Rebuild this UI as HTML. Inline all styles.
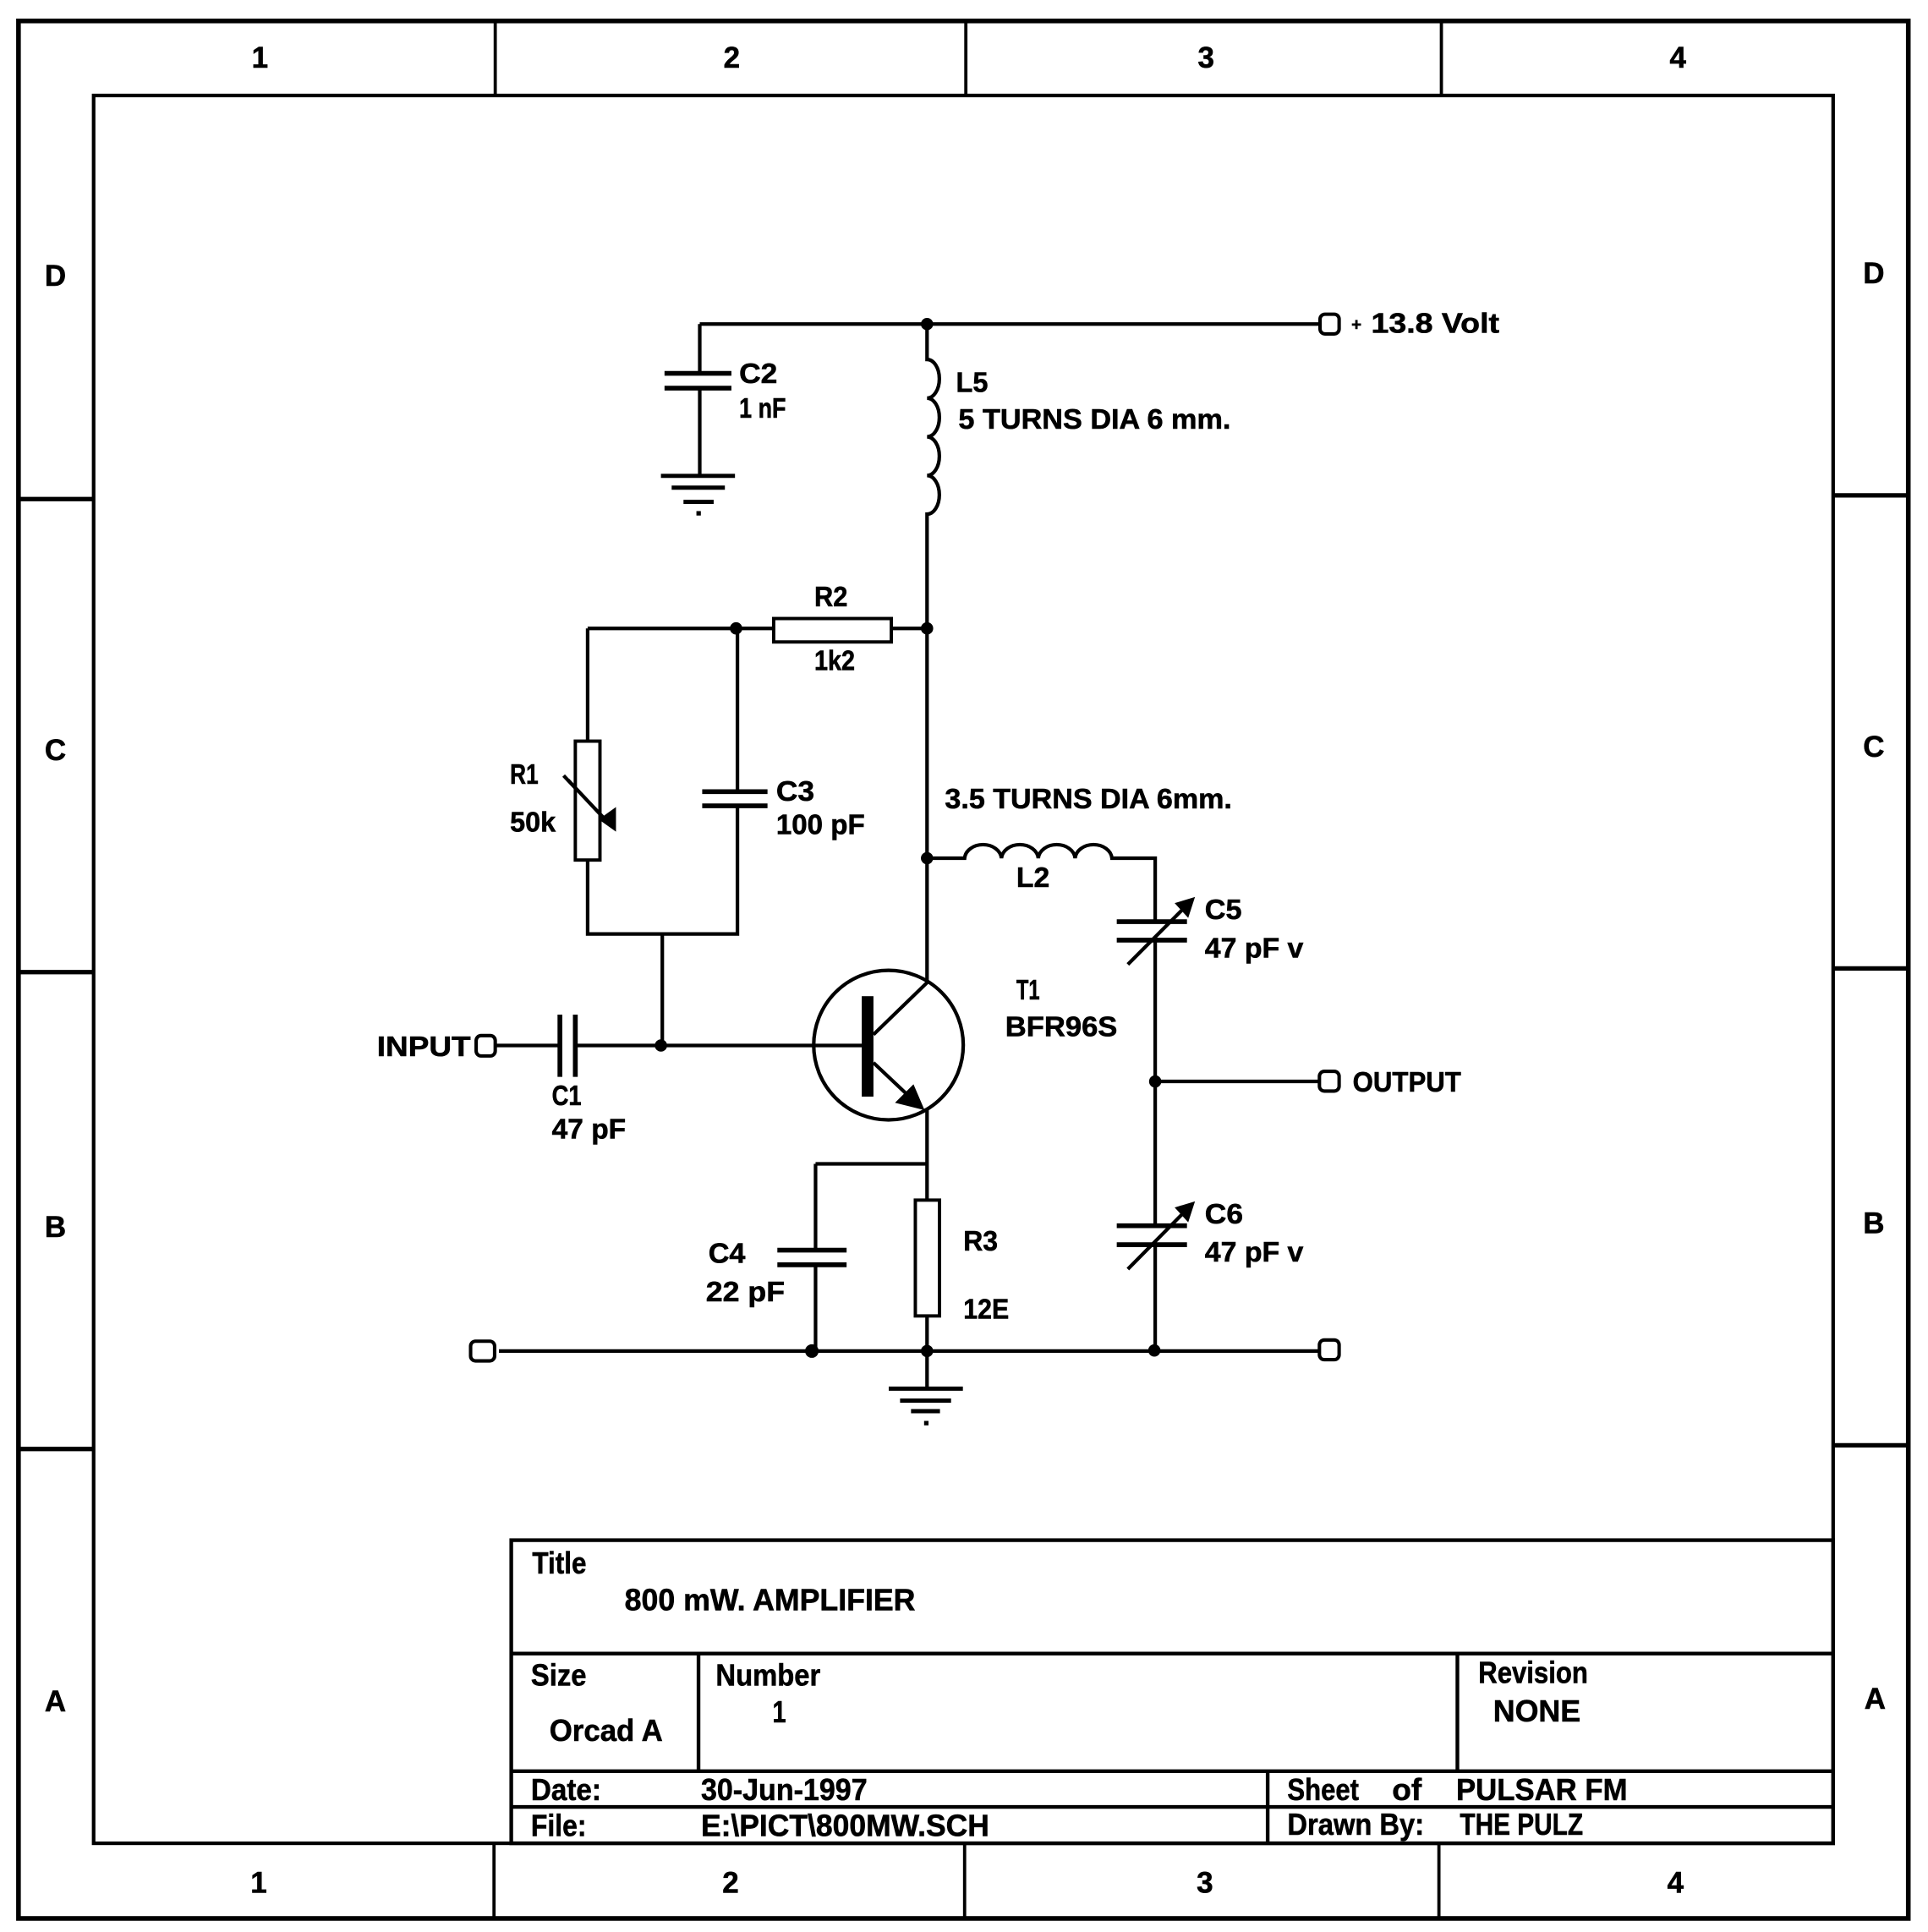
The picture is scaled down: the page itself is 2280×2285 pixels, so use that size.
<!DOCTYPE html>
<html>
<head>
<meta charset="utf-8">
<style>
html,body{margin:0;padding:0;background:#fff;}
svg{display:block;}
text{font-family:"Liberation Sans",Arial,sans-serif;font-weight:bold;fill:#000;stroke:#000;stroke-width:0.4;}
</style>
</head>
<body>
<svg xmlns="http://www.w3.org/2000/svg" width="2280" height="2285" viewBox="0 0 1565 1568" preserveAspectRatio="none">
<rect x="0" y="0" width="1565" height="1568" fill="#fff"/>

<!-- Frame -->
<g fill="none" stroke="#000">
  <rect x="15" y="17" width="1534" height="1540" stroke-width="3.8"/>
  <rect x="76" y="77.5" width="1412" height="1418.5" stroke-width="2.9"/>
  <path d="M402 17V77.5 M784 17V77.5 M1170 17V77.5 M401 1496V1557 M783 1496V1557 M1168 1496V1557" stroke-width="2.6"/>
  <path d="M15 405H76 M15 789H76 M15 1176H76 M1488 402H1549 M1488 786H1549 M1488 1173H1549" stroke-width="3.6"/>
</g>

<!-- Frame labels -->
<g font-size="24" text-anchor="middle">
  <text x="211" y="55">1</text>
  <text x="594" y="55">2</text>
  <text x="979" y="55">3</text>
  <text x="1362" y="55">4</text>
  <text x="210" y="1536">1</text>
  <text x="593" y="1536">2</text>
  <text x="978" y="1536">3</text>
  <text x="1360" y="1536">4</text>
  <text x="45" y="232">D</text>
  <text x="45" y="617">C</text>
  <text x="45" y="1004">B</text>
  <text x="45" y="1389">A</text>
  <text x="1521" y="230">D</text>
  <text x="1521" y="614">C</text>
  <text x="1521" y="1001">B</text>
  <text x="1522" y="1387">A</text>
</g>

<!-- Title block -->
<g fill="none" stroke="#000" stroke-width="3">
  <rect x="415" y="1250" width="1073" height="246"/>
  <path d="M415 1342H1488 M415 1437.5H1488 M415 1466.5H1488 M567 1342V1437.5 M1183 1342V1437.5 M1029 1437.5V1496"/>
</g>
<g font-size="25">
  <text x="432" y="1277" textLength="44" lengthAdjust="spacingAndGlyphs">Title</text>
  <text x="507" y="1307" textLength="236" lengthAdjust="spacingAndGlyphs">800 mW. AMPLIFIER</text>
  <text x="431" y="1368" textLength="45" lengthAdjust="spacingAndGlyphs">Size</text>
  <text x="446" y="1413" textLength="92" lengthAdjust="spacingAndGlyphs">Orcad A</text>
  <text x="581" y="1368" textLength="85" lengthAdjust="spacingAndGlyphs">Number</text>
  <text x="627" y="1398" textLength="11" lengthAdjust="spacingAndGlyphs">1</text>
  <text x="1200" y="1366" textLength="89" lengthAdjust="spacingAndGlyphs">Revision</text>
  <text x="1212" y="1397" textLength="71" lengthAdjust="spacingAndGlyphs">NONE</text>
  <text x="431" y="1461" textLength="57" lengthAdjust="spacingAndGlyphs">Date:</text>
  <text x="569" y="1461" textLength="135" lengthAdjust="spacingAndGlyphs">30-Jun-1997</text>
  <text x="431" y="1490" textLength="45" lengthAdjust="spacingAndGlyphs">File:</text>
  <text x="569" y="1490" textLength="234" lengthAdjust="spacingAndGlyphs">E:\PICT\800MW.SCH</text>
  <text x="1045" y="1461" textLength="58" lengthAdjust="spacingAndGlyphs">Sheet</text>
  <text x="1130" y="1461" textLength="24" lengthAdjust="spacingAndGlyphs">of</text>
  <text x="1182" y="1461" textLength="139" lengthAdjust="spacingAndGlyphs">PULSAR FM</text>
  <text x="1045" y="1489" textLength="111" lengthAdjust="spacingAndGlyphs">Drawn By:</text>
  <text x="1185" y="1489" textLength="100" lengthAdjust="spacingAndGlyphs">THE PULZ</text>
</g>

<!-- Wires -->
<g fill="none" stroke="#000" stroke-width="2.9">
  <path d="M568 263H1071"/>
  <path d="M568 263V303 M568 315V386"/>
  <path d="M752.5 263V291.7 A10 15.7 0 0 1 752.5 323.1 A10 15.7 0 0 1 752.5 354.5 A10 15.7 0 0 1 752.5 385.9 A10 15.7 0 0 1 752.5 417.3 V797.3"/>
  <path d="M477 510H628 M723.5 510H752.5"/>
  <path d="M477 510V601.5 M477 698V758H598.6V654 M598.6 642.5V510"/>
  <path d="M537.6 758V848.5"/>
  <path d="M402 848.5H454.5 M467 848.5H700"/>
  <path d="M752.5 696.5H783 A15 12 0 0 1 812.9 696.5 A15 12 0 0 1 842.8 696.5 A15 12 0 0 1 872.7 696.5 A15 12 0 0 1 902.6 696.5 H937.7V748 M937.7 763V994.8 M937.7 1010.2V1096.5"/>
  <path d="M937.7 877.7H1071"/>
  <path d="M752.5 900V974 M752.5 1068V1127 M662 944.6H752.5 M662 944.6V1014.6 M662 1026.5V1096.5"/>
  <path d="M405 1096.5H1071"/>
  <!-- transistor -->
  <circle cx="721.2" cy="848.2" r="60.7"/>
  <path d="M709 839.7L752.7 797.3 M709 862.5L744 895.5"/>
  <!-- R1 arrow -->
  <path d="M457.5 629.5L492 666"/>
  <!-- C5/C6 arrows -->
  <path d="M915.5 782.7L962 736 M915.5 1030L962 983"/>
</g>

<!-- Capacitor plates -->
<g fill="none" stroke="#000" stroke-width="3.9">
  <path d="M539.4 303H593.7 M539.4 315H593.7"/>
  <path d="M570 642.5H623 M570 654H623"/>
  <path d="M454.5 823.5V874 M467 823.5V874"/>
  <path d="M631 1014.6H687.2 M631 1026.5H687.2"/>
  <path d="M906.5 748H963.5 M906.5 763H963.5"/>
  <path d="M906.5 994.8H963.5 M906.5 1010.2H963.5"/>
</g>

<!-- Grounds -->
<g fill="none" stroke="#000" stroke-width="3.4">
  <path d="M536.5 386.2H596.6 M545.2 395.8H588.4 M554.8 407.3H579.3"/>
  <path d="M721.4 1127H781.6 M730.6 1136.7H772 M739.5 1145.3H763"/>
</g>
<rect x="565.3" y="414.8" width="3.6" height="3.6" fill="#000"/>
<rect x="750.1" y="1153.2" width="3.6" height="3.6" fill="#000"/>

<!-- Resistors -->
<g fill="#fff" stroke="#000" stroke-width="2.7">
  <rect x="628" y="502" width="95.5" height="19"/>
  <rect x="467" y="601.5" width="20" height="96.5"/>
  <rect x="743" y="974" width="19.6" height="94"/>
</g>
<path d="M461 633L493 667" stroke="#000" stroke-width="2.9" fill="none"/>

<!-- Connectors -->
<g fill="#fff" stroke="#000" stroke-width="2.8">
  <rect x="1071.5" y="255" width="15.5" height="16" rx="4"/>
  <rect x="386.5" y="840.5" width="15.5" height="16.5" rx="4"/>
  <rect x="1071" y="869.5" width="16" height="16" rx="4"/>
  <rect x="382" y="1088.5" width="19.5" height="16" rx="4"/>
  <rect x="1071" y="1087.5" width="16" height="16" rx="4"/>
</g>

<!-- Filled shapes -->
<g fill="#000" stroke="none">
  <rect x="699.5" y="808.5" width="9.5" height="81.5"/>
  <polygon points="750.5,901 726.5,895 741.5,880"/>
  <polygon points="486,665 500,655 500,675"/>
  <polygon points="970,728 953.5,733 964.5,745"/>
  <polygon points="970,975 953.5,980 964.5,992"/>
  <circle cx="752.5" cy="263" r="5"/>
  <circle cx="752.5" cy="510" r="5"/>
  <circle cx="597.5" cy="510" r="5"/>
  <circle cx="752.5" cy="696.5" r="5"/>
  <circle cx="536.5" cy="848.5" r="5"/>
  <circle cx="937.7" cy="877.7" r="5"/>
  <circle cx="659" cy="1096.5" r="5.5"/>
  <circle cx="752.5" cy="1096.5" r="5"/>
  <circle cx="937" cy="1096" r="5"/>
</g>

<!-- Circuit labels -->
<g font-size="23">
  <text x="600" y="311" textLength="31" lengthAdjust="spacingAndGlyphs">C2</text>
  <text x="600" y="339" textLength="38" lengthAdjust="spacingAndGlyphs">1 nF</text>
  <text x="776" y="318" textLength="26" lengthAdjust="spacingAndGlyphs">L5</text>
  <text x="778" y="348" textLength="221" lengthAdjust="spacingAndGlyphs">5 TURNS DIA 6 mm.</text>
  <text x="1097" y="268" font-size="14">+</text>
  <text x="1113" y="270" textLength="104" lengthAdjust="spacingAndGlyphs">13.8 Volt</text>
  <text x="661" y="492" textLength="27" lengthAdjust="spacingAndGlyphs">R2</text>
  <text x="661" y="544" textLength="33" lengthAdjust="spacingAndGlyphs">1k2</text>
  <text x="414" y="636" textLength="23" lengthAdjust="spacingAndGlyphs">R1</text>
  <text x="414" y="675" textLength="37" lengthAdjust="spacingAndGlyphs">50k</text>
  <text x="630" y="650" textLength="31" lengthAdjust="spacingAndGlyphs">C3</text>
  <text x="630" y="677" textLength="72" lengthAdjust="spacingAndGlyphs">100 pF</text>
  <text x="767" y="656" textLength="233" lengthAdjust="spacingAndGlyphs">3.5 TURNS DIA 6mm.</text>
  <text x="825" y="720" textLength="27" lengthAdjust="spacingAndGlyphs">L2</text>
  <text x="978" y="746" textLength="30" lengthAdjust="spacingAndGlyphs">C5</text>
  <text x="978" y="777" textLength="80" lengthAdjust="spacingAndGlyphs">47 pF v</text>
  <text x="825" y="811" textLength="19" lengthAdjust="spacingAndGlyphs">T1</text>
  <text x="816" y="841" textLength="91" lengthAdjust="spacingAndGlyphs">BFR96S</text>
  <text x="306" y="857" textLength="76" lengthAdjust="spacingAndGlyphs">INPUT</text>
  <text x="448" y="897" textLength="24" lengthAdjust="spacingAndGlyphs">C1</text>
  <text x="448" y="924" textLength="60" lengthAdjust="spacingAndGlyphs">47 pF</text>
  <text x="1098" y="886" textLength="88" lengthAdjust="spacingAndGlyphs">OUTPUT</text>
  <text x="575" y="1025" textLength="30" lengthAdjust="spacingAndGlyphs">C4</text>
  <text x="573" y="1056" textLength="64" lengthAdjust="spacingAndGlyphs">22 pF</text>
  <text x="782" y="1015" textLength="28" lengthAdjust="spacingAndGlyphs">R3</text>
  <text x="782" y="1070" textLength="37" lengthAdjust="spacingAndGlyphs">12E</text>
  <text x="978" y="993" textLength="31" lengthAdjust="spacingAndGlyphs">C6</text>
  <text x="978" y="1024" textLength="80" lengthAdjust="spacingAndGlyphs">47 pF v</text>
</g>
</svg>
</body>
</html>
